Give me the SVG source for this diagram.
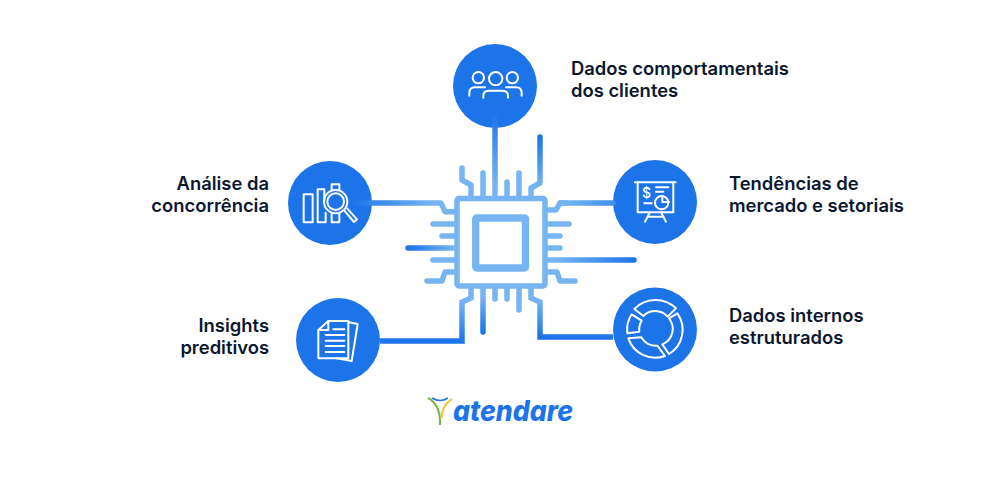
<svg xmlns="http://www.w3.org/2000/svg" width="1000" height="500" viewBox="0 0 1000 500">
<style>
.bg{fill:#fff}
.disc{fill:#1d74e8}
.ic{fill:none;stroke:#fff;stroke-width:6;stroke-linecap:round;stroke-linejoin:round}
.lb{font-family:Inter,"Liberation Sans",sans-serif;font-weight:600;font-size:18.4px;fill:#0b1730}
.e{text-anchor:end}
.pin{fill:none;stroke:#76b5f1;stroke-width:5.5;stroke-linecap:round;stroke-linejoin:round}
.w{fill:none;stroke-width:5.5;stroke-linecap:round;stroke-linejoin:round}
.m{stroke-linecap:butt;stroke-linejoin:miter}
</style>
<defs>
<linearGradient id="gTop" gradientUnits="userSpaceOnUse" x1="0" y1="112" x2="0" y2="185"><stop offset="0" stop-color="#1d74e8"/><stop offset="1" stop-color="#76b5f1"/></linearGradient>
<linearGradient id="gTR" gradientUnits="userSpaceOnUse" x1="0" y1="137" x2="0" y2="186"><stop offset="0" stop-color="#1d74e8"/><stop offset="1" stop-color="#76b5f1"/></linearGradient>
<linearGradient id="gL" gradientUnits="userSpaceOnUse" x1="352" y1="0" x2="432" y2="0"><stop offset="0" stop-color="#1d74e8"/><stop offset="1" stop-color="#76b5f1"/></linearGradient>
<linearGradient id="gR" gradientUnits="userSpaceOnUse" x1="645" y1="0" x2="565" y2="0"><stop offset="0" stop-color="#1d74e8"/><stop offset="1" stop-color="#76b5f1"/></linearGradient>
<linearGradient id="gML" gradientUnits="userSpaceOnUse" x1="408" y1="0" x2="454" y2="0"><stop offset="0" stop-color="#1d74e8"/><stop offset="1" stop-color="#76b5f1"/></linearGradient>
<linearGradient id="gMR" gradientUnits="userSpaceOnUse" x1="634" y1="0" x2="556" y2="0"><stop offset="0" stop-color="#1d74e8"/><stop offset="1" stop-color="#76b5f1"/></linearGradient>
<linearGradient id="gBL" gradientUnits="userSpaceOnUse" x1="0" y1="300" x2="0" y2="341"><stop offset="0" stop-color="#76b5f1"/><stop offset="1" stop-color="#1d74e8"/></linearGradient>
<linearGradient id="gBR" gradientUnits="userSpaceOnUse" x1="0" y1="300" x2="0" y2="337"><stop offset="0" stop-color="#76b5f1"/><stop offset="1" stop-color="#1d74e8"/></linearGradient>
<linearGradient id="gBM" gradientUnits="userSpaceOnUse" x1="0" y1="296" x2="0" y2="332"><stop offset="0" stop-color="#76b5f1"/><stop offset="1" stop-color="#1d74e8"/></linearGradient>
</defs>
<rect class="bg" width="1000" height="500"/>

<g id="node-comportamentais">
<circle class="disc" cx="495" cy="86" r="42"/>
<g class="ic" transform="translate(440 35) scale(.3333)">
<circle cx="115" cy="128" r="17"/><circle cx="167" cy="131" r="20"/><circle cx="217" cy="128" r="17"/>
<path d="M88 182V174Q88 157 105 157H135"/><path d="M245 182V174Q245 157 228 157H198"/>
<path d="M130 188V182Q130 167 147 167H187Q204 167 204 182V188"/>
</g>
<text class="lb" x="571" y="75">Dados comportamentais</text>
<text class="lb" x="571" y="97">dos clientes</text>
</g>

<g id="node-concorrencia">
<circle class="disc" cx="330" cy="203" r="42"/>
<g class="ic" transform="translate(280 150) scale(.3333)">
<rect x="71" y="133" width="27" height="84"/>
<path d="M133 150V118H113V217H137V188"/>
<path d="M155 120V103H178V120"/><path d="M155 190V217H178V190"/>
<circle cx="167" cy="155" r="35"/><circle cx="167" cy="155" r="25"/>
<path d="M193 182L222 216L231 208L202 176"/>
</g>
<text class="lb e" x="269" y="190">Análise da</text>
<text class="lb e" x="269" y="212">concorrência</text>
</g>

<g id="node-tendencias">
<circle class="disc" cx="655" cy="202" r="42"/>
<g class="ic" transform="translate(600 150) scale(.3333)">
<path d="M105 97H227"/><path d="M113 97V187H220V97"/>
<path d="M150 187L135 215"/><path d="M183 187L198 215"/><path d="M143 200H190"/>
<path d="M168 112H205"/><path d="M168 125H190"/><path d="M133 160H155"/>
<circle cx="185" cy="158" r="20"/><path d="M187 138V156H207"/>
</g>
<text x="646.500" y="198" font-family="Inter,'Liberation Sans',sans-serif" font-size="14" font-weight="500" fill="#fff" text-anchor="middle">$</text>
<text class="lb" x="729" y="190">Tendências de</text>
<text class="lb" x="729" y="212">mercado e setoriais</text>
</g>

<g id="node-internos">
<circle class="disc" cx="655" cy="329.500" r="42"/>
<g class="ic" transform="translate(600 280) scale(.3333)">
<path d="M103 87A88 88 0 0 1 228 85L203 110A50 50 0 0 0 130 108Z"/>
<path d="M232 100A85 85 0 0 1 207 222L187 193A50 50 0 0 0 207 115Z"/>
<path d="M85 175A85 85 0 0 0 195 228L172 197A50 50 0 0 1 124 172Z"/>
<path d="M95 103A85 85 0 0 0 82 160L118 155A50 50 0 0 1 125 122Z"/>
</g>
<text class="lb" x="729" y="322">Dados internos</text>
<text class="lb" x="729" y="344">estruturados</text>
</g>

<g id="node-insights">
<circle class="disc" cx="338" cy="340" r="42"/>
<g class="ic" transform="translate(285 290) scale(.3333)">
<path d="M192 97L218 102L200 213L155 205"/>
<path d="M100 120L130 93H190V205H100Z"/><path d="M130 93V120H100"/>
<path d="M145 118H178"/><path d="M122 135H178"/><path d="M122 152H178"/><path d="M122 168H178"/><path d="M122 186H178"/>
</g>
<text class="lb e" x="269" y="332">Insights</text>
<text class="lb e" x="269" y="354">preditivos</text>
</g>

<g id="chip">
<rect x="457" y="198.500" width="88" height="87.500" rx="2" fill="#fff" stroke="#76b5f1" stroke-width="5.500" stroke-linejoin="round"/>
<rect x="475.700" y="218" width="49.800" height="50" rx="1" fill="#fff" stroke="#76b5f1" stroke-width="7.300" stroke-linejoin="round"/>
</g>

<g id="connectors">
<path class="pin" d="M462 168V180L471 185V196"/>
<path class="pin" d="M483 173V196"/>
<path class="pin" d="M507 182V196"/>
<path class="pin" d="M519 173V196"/>
<path class="pin" d="M433 224H454"/>
<path class="pin" d="M442 236H454"/>
<path class="pin" d="M433 260H454"/>
<path class="pin" d="M427 281H442L445 272H454"/>
<path class="pin" d="M548 210H556L560 203H566"/>
<path class="pin" d="M548 224H569"/>
<path class="pin" d="M548 236H560"/>
<path class="pin" d="M548 248H560"/>
<path class="pin" d="M548 272H557L560 281H575"/>
<path class="pin" d="M495 288V299"/>
<path class="pin" d="M507 288V299"/>
<path class="pin" d="M519 288V310"/>
<path class="w" stroke="url(#gTop)" d="M495 115V196"/>
<path class="w" stroke="url(#gTR)" d="M540 137V183L531 188V196"/>
<path class="w" stroke="url(#gL)" d="M352 203H441L445 211.700H454"/>
<path class="w" stroke="url(#gR)" d="M613 203H560"/>
<path class="w" stroke="url(#gML)" d="M408 248H454"/>
<path class="w" stroke="url(#gMR)" d="M634 260H548"/>
<path class="w" stroke="url(#gBM)" d="M483 288V332"/>
<path class="w m" stroke="url(#gBL)" d="M471 288V298L462 302V341H380"/>
<path class="w m" stroke="url(#gBR)" d="M531 288V298L540 302V337H613"/>
</g>

<g id="logo">
<path d="M428 398Q441 405 440 425" fill="none" stroke="#7ab648" stroke-width="2"/>
<path d="M452 399Q442 405 441.500 418" fill="none" stroke="#f2c230" stroke-width="2"/>
<path d="M432 398Q440 403 448 398" fill="none" stroke="#1d74e8" stroke-width="1.500"/>
<text x="453" y="421" font-family="Inter,'Liberation Sans',sans-serif" font-weight="800" font-style="italic" font-size="28px" textLength="120" lengthAdjust="spacingAndGlyphs" fill="#1d74e8">atendare</text>
</g>
</svg>
